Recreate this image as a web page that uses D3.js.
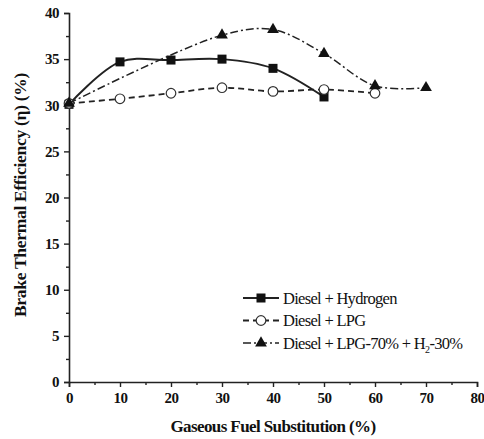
<!DOCTYPE html>
<html>
<head>
<meta charset="utf-8">
<script src="https://cdn.jsdelivr.net/npm/d3@7"></script>
<style>
  body { margin: 0; background: #fff; }
  text { font-family: 'Liberation Serif', 'DejaVu Serif', serif; fill: #111; }
</style>
</head>
<body>
<div id="chart"></div>
<script>
// values
const hydrogenX = [0, 10, 20, 30, 40, 50];
const hydrogenY = [30.1, 34.7, 34.9, 35.0, 34.0, 30.9];

const lpgX = [0, 10, 20, 30, 40, 50, 60];
const lpgY = [30.2, 30.7, 31.3, 31.9, 31.5, 31.7, 31.3];

const mixX = [0, 30, 40, 50, 60, 70];
const mixY = [30.2, 37.6, 38.2, 35.6, 32.1, 31.9];

const xTicks = [0, 10, 20, 30, 40, 50, 60, 70, 80];
const yTicks = [0, 5, 10, 15, 20, 25, 30, 35, 40];

const width = 484;
const height = 439;
const margin = { top: 13, right: 7, bottom: 57, left: 69 };

const svg = d3.select('#chart')
  .append('svg')
  .attr('width', width)
  .attr('height', height);

const x = d3.scaleLinear()
  .domain([0, 80])
  .range([margin.left, width - margin.right]);

const y = d3.scaleLinear()
  .domain([0, 40])
  .range([height - margin.bottom, margin.top]);

// axes: major ticks + minor ticks, both outward
svg.append('g')
  .attr('transform', `translate(0,${y(0)})`)
  .call(d3.axisBottom(x).tickValues(xTicks).tickSize(5).tickPadding(5).tickFormat(d3.format('d')));
svg.append('g')
  .attr('transform', `translate(0,${y(0)})`)
  .call(d3.axisBottom(x).tickValues(d3.range(5, 80, 10)).tickSize(3).tickFormat(''))
  .call((g) => g.select('.domain').remove());

svg.append('g')
  .attr('transform', `translate(${x(0)},0)`)
  .call(d3.axisLeft(y).tickValues(yTicks).tickSize(5).tickPadding(5).tickFormat(d3.format('d')));
svg.append('g')
  .attr('transform', `translate(${x(0)},0)`)
  .call(d3.axisLeft(y).tickValues(d3.range(2.5, 40, 5)).tickSize(3).tickFormat(''))
  .call((g) => g.select('.domain').remove());

svg.selectAll('.domain').attr('stroke', '#222').attr('stroke-width', 1.6);
svg.selectAll('.tick line').attr('stroke', '#222').attr('stroke-width', 1.4);
svg.selectAll('.tick text')
  .attr('font-family', "'Liberation Serif', serif")
  .attr('font-size', 15)
  .attr('font-weight', 'bold')
  .attr('letter-spacing', -0.5)
  .attr('fill', '#111');

// axis titles
svg.append('text')
  .attr('x', (x(0) + x(80)) / 2)
  .attr('y', 432)
  .attr('text-anchor', 'middle')
  .attr('font-size', 17)
  .attr('font-weight', 'bold')
  .attr('letter-spacing', -0.6)
  .text('Gaseous Fuel Substitution (%)');

svg.append('text')
  .attr('transform', `translate(26,${(62 + 328) / 2}) rotate(-90)`)
  .attr('text-anchor', 'middle')
  .attr('font-size', 17.5)
  .attr('font-weight', 'bold')
  .attr('letter-spacing', -0.3)
  .text('Brake Thermal Efficiency (η) (%)');

const series = [
  { xs: hydrogenX, ys: hydrogenY, dash: null, marker: 'square', width: 2 },
  { xs: lpgX, ys: lpgY, dash: '6 4', marker: 'circle', width: 1.8 },
  { xs: mixX, ys: mixY, dash: '8 3 2 3', marker: 'triangle', width: 1.5 }
];

const line = d3.line()
  .x((d) => x(d[0]))
  .y((d) => y(d[1]))
  .curve(d3.curveCatmullRom.alpha(0.5));

function drawMarker(g, type, cx, cy) {
  if (type === 'square') {
    g.append('rect')
      .attr('x', cx - 4.5).attr('y', cy - 4.5)
      .attr('width', 9).attr('height', 9)
      .attr('fill', '#111');
  } else if (type === 'circle') {
    g.append('circle')
      .attr('cx', cx).attr('cy', cy).attr('r', 4.8)
      .attr('fill', '#fff').attr('stroke', '#333').attr('stroke-width', 1.2);
  } else {
    g.append('path')
      .attr('d', d3.symbol(d3.symbolTriangle, 60)())
      .attr('transform', `translate(${cx},${cy})`)
      .attr('fill', '#111');
  }
}

series.forEach((s) => {
  const pts = s.xs.map((v, i) => [v, s.ys[i]]);
  svg.append('path')
    .attr('d', line(pts))
    .attr('fill', 'none')
    .attr('stroke', '#222')
    .attr('stroke-width', s.width)
    .attr('stroke-dasharray', s.dash);
  const mg = svg.append('g');
  pts.forEach((p) => drawMarker(mg, s.marker, x(p[0]), y(p[1])));
});

// legend
const legendLabels = ['Diesel + Hydrogen', 'Diesel + LPG', 'Diesel + LPG-70% + H'];
const legend = svg.append('g').attr('transform', 'translate(243,298)');
series.forEach((s, i) => {
  const row = legend.append('g').attr('transform', `translate(0,${i * 22.5})`);
  row.append('line')
    .attr('x1', 0).attr('x2', 36)
    .attr('y1', 0).attr('y2', 0)
    .attr('stroke', '#222')
    .attr('stroke-width', s.width)
    .attr('stroke-dasharray', s.dash);
  drawMarker(row, s.marker, 18, 0);
  const t = row.append('text')
    .attr('x', 40)
    .attr('y', 5.5)
    .attr('font-size', 16.5)
    .attr('letter-spacing', -0.7)
    .text(legendLabels[i]);
  if (i === 2) {
    t.append('tspan').attr('font-size', 10).attr('dy', 4).text('2');
    t.append('tspan').attr('dy', -4).text('-30%');
  }
});
</script>
</body>
</html>
